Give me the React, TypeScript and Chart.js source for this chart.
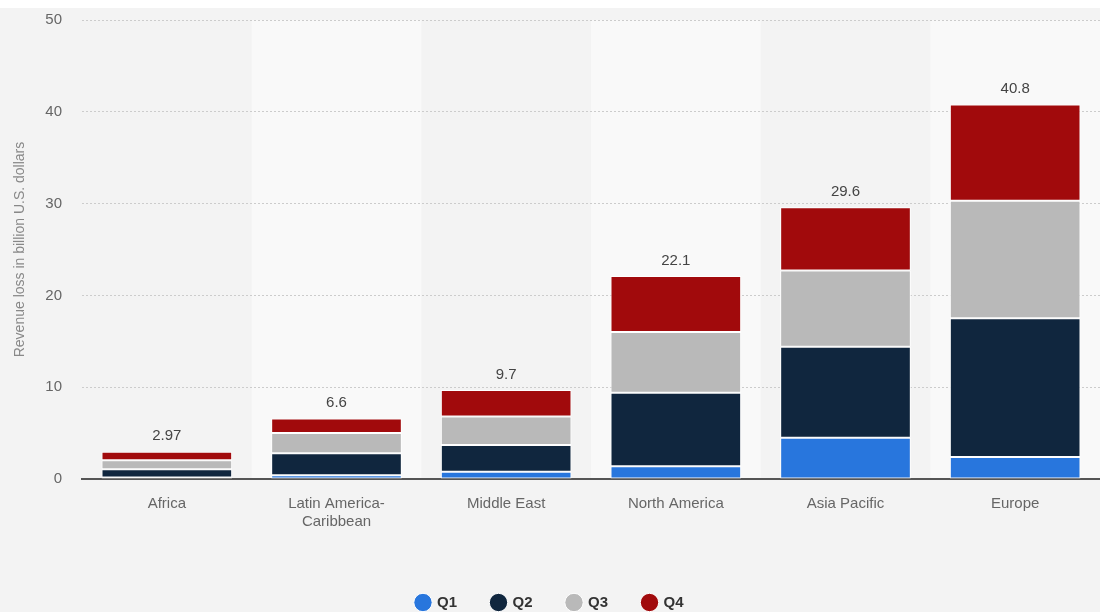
import React, { useEffect, useRef } from "react";
import { Chart, registerables } from "chart.js";

Chart.register(...registerables);

const categories: (string | string[])[] = [
  "Africa",
  ["Latin America-", "Caribbean"],
  "Middle East",
  "North America",
  "Asia Pacific",
  "Europe",
];
const q1 = [0.15, 0.4, 0.8, 1.4, 4.5, 2.4];
const q2 = [0.9, 2.4, 2.9, 8.0, 9.9, 15.1];
const q3 = [1.0, 2.2, 3.1, 6.6, 8.3, 12.8];
const q4 = [0.92, 1.6, 2.9, 6.1, 6.9, 10.5];
const totals = ["2.97", "6.6", "9.7", "22.1", "29.6", "40.8"];
const seriesNames = ["Q1", "Q2", "Q3", "Q4"];
const seriesColors = ["#2876dd", "#10263e", "#b9b9b9", "#a10a0c"];
const yTicks = [0, 10, 20, 30, 40, 50];

const FONT = "'Liberation Sans', Arial, sans-serif";

const bgPlugin = {
  id: "bgBands",
  beforeDraw(chart: any) {
    const { ctx, chartArea, scales } = chart;
    ctx.save();
    ctx.fillStyle = "#ffffff";
    ctx.fillRect(0, 0, chart.width, chart.height);
    ctx.fillStyle = "#f3f3f3";
    ctx.fillRect(0, 8, chart.width, chart.height - 8);
    const x = scales.x;
    const n = categories.length;
    const w = (chartArea.right - chartArea.left) / n;
    ctx.fillStyle = "#f9f9f9";
    for (let i = 1; i < n; i += 2) {
      const cx = x.getPixelForValue(i);
      ctx.fillRect(cx - w / 2, chartArea.top, w, chartArea.bottom - chartArea.top);
    }
    ctx.restore();
  },
};

const totalsPlugin = {
  id: "totals",
  afterDatasetsDraw(chart: any) {
    const { ctx } = chart;
    const meta = chart.getDatasetMeta(3);
    ctx.save();
    ctx.font = `15px ${FONT}`;
    ctx.fillStyle = "#444444";
    ctx.textAlign = "center";
    ctx.textBaseline = "bottom";
    meta.data.forEach((bar: any, i: number) => {
      ctx.fillText(totals[i], bar.x, bar.y - 8);
    });
    ctx.restore();
  },
};

export default function App() {
  const ref = useRef<HTMLCanvasElement>(null);
  useEffect(() => {
    document.body.style.margin = "0";
    const data = [q1, q2, q3, q4];
    const chart = new Chart(ref.current!, {
      type: "bar",
      data: {
        labels: categories,
        datasets: data.map((d, i) => ({
          label: seriesNames[i],
          data: d,
          backgroundColor: seriesColors[i],
          borderColor: "#ffffff",
          borderWidth: 1,
          borderSkipped: false,
          categoryPercentage: 1,
          barPercentage: 0.77,
        })),
      },
      options: {
        animation: false,
        responsive: false,
        maintainAspectRatio: false,
        layout: { padding: { top: 20, right: 0, left: 0, bottom: -8 } },
        plugins: {
          tooltip: { enabled: false },
          legend: {
            position: "bottom",
            labels: {
              usePointStyle: true,
              pointStyle: "circle",
              boxWidth: 13,
              boxHeight: 13,
              padding: 35,
              color: "#333333",
              font: { family: FONT, size: 15, weight: "bold" },
            },
          },
        },
        scales: {
          x: {
            stacked: true,
            grid: { display: false },
            border: { display: true, color: "#555555", width: 2 },
            ticks: {
              color: "#666666",
              font: { family: FONT, size: 15 },
              padding: 8,
              maxRotation: 0,
            },
            afterFit(scale: any) {
              scale.height = 81;
            },
          },
          y: {
            stacked: true,
            min: 0,
            max: 50,
            afterBuildTicks(scale: any) {
              scale.ticks = yTicks.map((v) => ({ value: v }));
            },
            grid: {
              color: (c: any) => (c.tick && c.tick.value === 0 ? "rgba(0,0,0,0)" : "#cccccc"),
              lineWidth: 1,
              drawTicks: false,
            },
            border: { display: false, dash: [2, 2] },
            ticks: {
              color: "#666666",
              font: { family: FONT, size: 15 },
              padding: 20,
            },
            title: {
              display: true,
              text: "Revenue loss in billion U.S. dollars",
              color: "#888888",
              font: { family: FONT, size: 14 },
              padding: { top: 12, bottom: 0 },
            },
            afterFit(scale: any) {
              scale.width = 82;
              scale.paddingTop = 0;
              scale.paddingBottom = 0;
            },
          },
        },
      },
      plugins: [bgPlugin, totalsPlugin],
    });
    return () => chart.destroy();
  }, []);
  return (
    <div style={{ position: "absolute", left: 0, top: 0, width: 1100, height: 612 }}>
      <canvas ref={ref} width={1100} height={612} style={{ width: 1100, height: 612 }} />
    </div>
  );
}
